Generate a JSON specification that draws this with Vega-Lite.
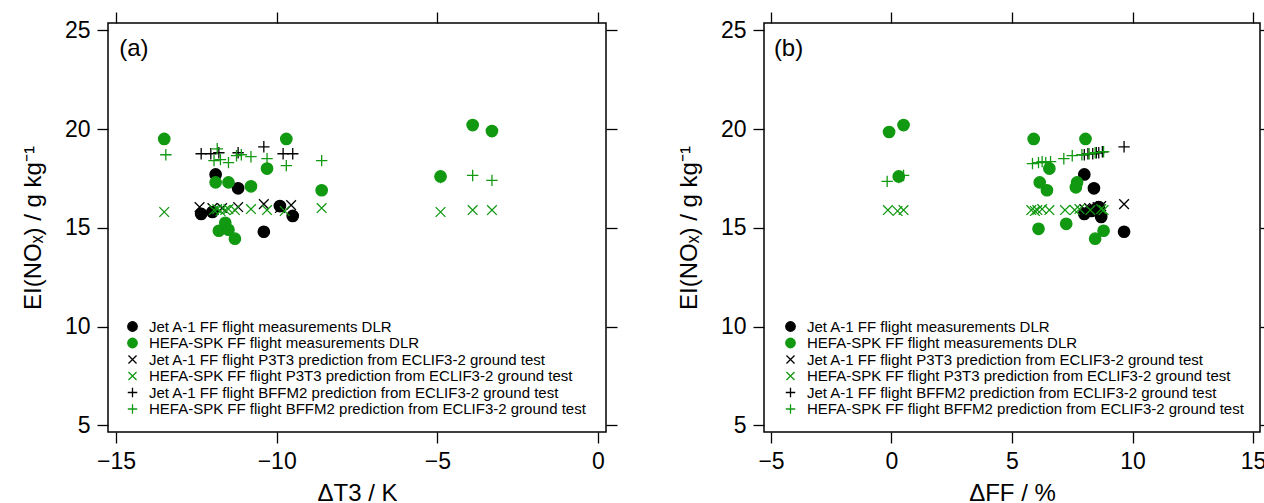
{
  "$schema": "https://vega.github.io/schema/vega-lite/v6.json",
  "padding": {"left": 20, "top": 10, "right": 0, "bottom": 0},
  "background": "white",
  "config": {
    "view": {"stroke": "black", "strokeWidth": 1.5},
    "font": "Liberation Sans",
    "axis": {"domain": false, "grid": false, "ticks": true, "tickColor": "black", "tickWidth": 1.3, "tickSize": 11, "labelFont": "Liberation Sans", "labelFontSize": 23, "labelColor": "black", "titleFont": "Liberation Sans", "titleFontSize": 24, "titleFontWeight": "normal", "titleColor": "black", "labelPadding": 7},
    "axisX": {"titlePadding": 8},
    "axisY": {"titlePadding": 19},
    "legend": {"orient": "none", "legendY": 296, "title": null, "labelFont": "Liberation Sans", "labelFontSize": 15, "labelColor": "black", "symbolSize": 90, "symbolStrokeWidth": 1.3, "rowPadding": 0.5, "labelOffset": 9, "padding": 0, "labelLimit": 700}
  },
  "datasets": {
    "pts": [
      {"p": "a", "s": "JM", "x": -11.9, "y": 17.7},
      {"p": "a", "s": "JM", "x": -11.2, "y": 17.0},
      {"p": "a", "s": "JM", "x": -12.35, "y": 15.7},
      {"p": "a", "s": "JM", "x": -12.0, "y": 15.8},
      {"p": "a", "s": "JM", "x": -9.9, "y": 16.1},
      {"p": "a", "s": "JM", "x": -9.5, "y": 15.6},
      {"p": "a", "s": "JM", "x": -10.4, "y": 14.8},
      {"p": "b", "s": "JM", "x": 8.0, "y": 17.7},
      {"p": "b", "s": "JM", "x": 8.4, "y": 17.0},
      {"p": "b", "s": "JM", "x": 8.0, "y": 15.7},
      {"p": "b", "s": "JM", "x": 8.3, "y": 15.85},
      {"p": "b", "s": "JM", "x": 8.6, "y": 16.05},
      {"p": "b", "s": "JM", "x": 8.7, "y": 15.55},
      {"p": "b", "s": "JM", "x": 9.65, "y": 14.8},

      {"p": "a", "s": "HM", "x": -13.5, "y": 19.5},
      {"p": "a", "s": "HM", "x": -9.7, "y": 19.5},
      {"p": "a", "s": "HM", "x": -3.9, "y": 20.2},
      {"p": "a", "s": "HM", "x": -3.3, "y": 19.9},
      {"p": "a", "s": "HM", "x": -4.9, "y": 17.6},
      {"p": "a", "s": "HM", "x": -8.6, "y": 16.9},
      {"p": "a", "s": "HM", "x": -10.3, "y": 18.0},
      {"p": "a", "s": "HM", "x": -11.9, "y": 17.3},
      {"p": "a", "s": "HM", "x": -11.5, "y": 17.3},
      {"p": "a", "s": "HM", "x": -10.8, "y": 17.1},
      {"p": "a", "s": "HM", "x": -11.6, "y": 15.25},
      {"p": "a", "s": "HM", "x": -11.8, "y": 14.85},
      {"p": "a", "s": "HM", "x": -11.5, "y": 14.9},
      {"p": "a", "s": "HM", "x": -11.3, "y": 14.45},
      {"p": "b", "s": "HM", "x": -0.1, "y": 19.85},
      {"p": "b", "s": "HM", "x": 0.5, "y": 20.2},
      {"p": "b", "s": "HM", "x": 0.3, "y": 17.6},
      {"p": "b", "s": "HM", "x": 5.9, "y": 19.5},
      {"p": "b", "s": "HM", "x": 8.05, "y": 19.5},
      {"p": "b", "s": "HM", "x": 6.55, "y": 18.0},
      {"p": "b", "s": "HM", "x": 6.15, "y": 17.3},
      {"p": "b", "s": "HM", "x": 6.45, "y": 16.9},
      {"p": "b", "s": "HM", "x": 7.7, "y": 17.3},
      {"p": "b", "s": "HM", "x": 7.65, "y": 17.05},
      {"p": "b", "s": "HM", "x": 6.1, "y": 14.95},
      {"p": "b", "s": "HM", "x": 7.25, "y": 15.2},
      {"p": "b", "s": "HM", "x": 8.8, "y": 14.85},
      {"p": "b", "s": "HM", "x": 8.45, "y": 14.45},

      {"p": "a", "s": "JP", "x": -12.4, "y": 16.05},
      {"p": "a", "s": "JP", "x": -12.0, "y": 16.0},
      {"p": "a", "s": "JP", "x": -11.7, "y": 16.0},
      {"p": "a", "s": "JP", "x": -11.2, "y": 16.05},
      {"p": "a", "s": "JP", "x": -10.4, "y": 16.2},
      {"p": "a", "s": "JP", "x": -9.9, "y": 16.0},
      {"p": "a", "s": "JP", "x": -9.55, "y": 16.15},
      {"p": "b", "s": "JP", "x": 9.65, "y": 16.2},
      {"p": "b", "s": "JP", "x": 8.0, "y": 15.95},
      {"p": "b", "s": "JP", "x": 8.2, "y": 16.0},
      {"p": "b", "s": "JP", "x": 8.4, "y": 16.0},
      {"p": "b", "s": "JP", "x": 8.55, "y": 16.05},
      {"p": "b", "s": "JP", "x": 8.7, "y": 16.1},
      {"p": "b", "s": "JP", "x": 8.5, "y": 15.9},

      {"p": "a", "s": "HP", "x": -13.5, "y": 15.8},
      {"p": "a", "s": "HP", "x": -11.95, "y": 15.9},
      {"p": "a", "s": "HP", "x": -11.85, "y": 15.95},
      {"p": "a", "s": "HP", "x": -11.75, "y": 15.85},
      {"p": "a", "s": "HP", "x": -11.6, "y": 15.9},
      {"p": "a", "s": "HP", "x": -11.5, "y": 15.95},
      {"p": "a", "s": "HP", "x": -11.3, "y": 15.9},
      {"p": "a", "s": "HP", "x": -10.8, "y": 15.95},
      {"p": "a", "s": "HP", "x": -10.3, "y": 15.9},
      {"p": "a", "s": "HP", "x": -9.75, "y": 15.85},
      {"p": "a", "s": "HP", "x": -8.6, "y": 16.0},
      {"p": "a", "s": "HP", "x": -4.9, "y": 15.8},
      {"p": "a", "s": "HP", "x": -3.9, "y": 15.9},
      {"p": "a", "s": "HP", "x": -3.3, "y": 15.9},
      {"p": "b", "s": "HP", "x": -0.15, "y": 15.9},
      {"p": "b", "s": "HP", "x": 0.25, "y": 15.85},
      {"p": "b", "s": "HP", "x": 0.5, "y": 15.9},
      {"p": "b", "s": "HP", "x": 5.8, "y": 15.9},
      {"p": "b", "s": "HP", "x": 5.95, "y": 15.85},
      {"p": "b", "s": "HP", "x": 6.05, "y": 15.9},
      {"p": "b", "s": "HP", "x": 6.25, "y": 15.95},
      {"p": "b", "s": "HP", "x": 6.55, "y": 15.9},
      {"p": "b", "s": "HP", "x": 7.2, "y": 15.9},
      {"p": "b", "s": "HP", "x": 7.6, "y": 15.9},
      {"p": "b", "s": "HP", "x": 7.8, "y": 15.95},
      {"p": "b", "s": "HP", "x": 8.25, "y": 15.9},
      {"p": "b", "s": "HP", "x": 8.7, "y": 15.95},
      {"p": "b", "s": "HP", "x": 8.8, "y": 15.9},

      {"p": "a", "s": "JB", "x": -12.35, "y": 18.75},
      {"p": "a", "s": "JB", "x": -12.05, "y": 18.75},
      {"p": "a", "s": "JB", "x": -11.8, "y": 18.8},
      {"p": "a", "s": "JB", "x": -11.2, "y": 18.8},
      {"p": "a", "s": "JB", "x": -10.4, "y": 19.1},
      {"p": "a", "s": "JB", "x": -9.8, "y": 18.75},
      {"p": "a", "s": "JB", "x": -9.5, "y": 18.75},
      {"p": "b", "s": "JB", "x": 9.65, "y": 19.1},
      {"p": "b", "s": "JB", "x": 8.0, "y": 18.7},
      {"p": "b", "s": "JB", "x": 8.15, "y": 18.75},
      {"p": "b", "s": "JB", "x": 8.35, "y": 18.75},
      {"p": "b", "s": "JB", "x": 8.5, "y": 18.8},
      {"p": "b", "s": "JB", "x": 8.6, "y": 18.8},
      {"p": "b", "s": "JB", "x": 8.75, "y": 18.85},

      {"p": "a", "s": "HB", "x": -13.45, "y": 18.7},
      {"p": "a", "s": "HB", "x": -11.95, "y": 18.4},
      {"p": "a", "s": "HB", "x": -11.85, "y": 19.0},
      {"p": "a", "s": "HB", "x": -11.75, "y": 18.45},
      {"p": "a", "s": "HB", "x": -11.5, "y": 18.3},
      {"p": "a", "s": "HB", "x": -11.25, "y": 18.65},
      {"p": "a", "s": "HB", "x": -11.1, "y": 18.7},
      {"p": "a", "s": "HB", "x": -10.8, "y": 18.6},
      {"p": "a", "s": "HB", "x": -10.3, "y": 18.5},
      {"p": "a", "s": "HB", "x": -9.7, "y": 18.15},
      {"p": "a", "s": "HB", "x": -8.6, "y": 18.4},
      {"p": "a", "s": "HB", "x": -4.9, "y": 17.55},
      {"p": "a", "s": "HB", "x": -3.9, "y": 17.65},
      {"p": "a", "s": "HB", "x": -3.3, "y": 17.4},
      {"p": "b", "s": "HB", "x": -0.18, "y": 17.35},
      {"p": "b", "s": "HB", "x": 0.5, "y": 17.65},
      {"p": "b", "s": "HB", "x": 0.3, "y": 17.55},
      {"p": "b", "s": "HB", "x": 5.85, "y": 18.25},
      {"p": "b", "s": "HB", "x": 6.1, "y": 18.3},
      {"p": "b", "s": "HB", "x": 6.25, "y": 18.35},
      {"p": "b", "s": "HB", "x": 6.4, "y": 18.3},
      {"p": "b", "s": "HB", "x": 6.6, "y": 18.35},
      {"p": "b", "s": "HB", "x": 7.15, "y": 18.5},
      {"p": "b", "s": "HB", "x": 7.5, "y": 18.65},
      {"p": "b", "s": "HB", "x": 7.9, "y": 18.7},
      {"p": "b", "s": "HB", "x": 8.2, "y": 18.75},
      {"p": "b", "s": "HB", "x": 8.45, "y": 18.8},
      {"p": "b", "s": "HB", "x": 8.8, "y": 18.85}
    ]
  },
  "spacing": 57,
  "hconcat": [
    {
      "width": 498,
      "height": 409,
      "layer": [
        {
          "data": {"name": "pts"},
          "transform": [{"filter": "datum.p == 'a'"}],
          "mark": {"type": "point", "filled": true, "opacity": 1, "strokeWidth": 1.3, "size": 130},
          "encoding": {
            "x": {"field": "x", "type": "quantitative", "scale": {"domain": [-15.25, 0.25], "nice": false, "zero": false}, "axis": {"values": [-15, -10, -5, 0], "title": "ΔT3 / K"}},
            "y": {"field": "y", "type": "quantitative", "scale": {"domain": [4.66, 25.37], "nice": false, "zero": false}, "axis": {"values": [5, 10, 15, 20, 25], "title": "EI(NOₓ) / g kg⁻¹"}},
            "fill": {"field": "s", "type": "nominal", "scale": {"domain": ["JM", "HM", "JP", "HP", "JB", "HB"], "range": ["#000000", "#119911", "#000000", "#119911", "#000000", "#119911"]}, "legend": {"legendX": 17, "labelExpr": "datum.label == 'JM' ? 'Jet A-1 FF flight measurements DLR' : datum.label == 'HM' ? 'HEFA-SPK FF flight measurements DLR' : datum.label == 'JP' ? 'Jet A-1 FF flight P3T3 prediction from ECLIF3-2 ground test' : datum.label == 'HP' ? 'HEFA-SPK FF flight P3T3 prediction from ECLIF3-2 ground test' : datum.label == 'JB' ? 'Jet A-1 FF flight BFFM2 prediction from ECLIF3-2 ground test' : 'HEFA-SPK FF flight BFFM2 prediction from ECLIF3-2 ground test'"}},
            "stroke": {"field": "s", "type": "nominal", "scale": {"domain": ["JM", "HM", "JP", "HP", "JB", "HB"], "range": ["#000000", "#119911", "#000000", "#119911", "#000000", "#119911"]}, "legend": {"legendX": 17, "labelExpr": "datum.label == 'JM' ? 'Jet A-1 FF flight measurements DLR' : datum.label == 'HM' ? 'HEFA-SPK FF flight measurements DLR' : datum.label == 'JP' ? 'Jet A-1 FF flight P3T3 prediction from ECLIF3-2 ground test' : datum.label == 'HP' ? 'HEFA-SPK FF flight P3T3 prediction from ECLIF3-2 ground test' : datum.label == 'JB' ? 'Jet A-1 FF flight BFFM2 prediction from ECLIF3-2 ground test' : 'HEFA-SPK FF flight BFFM2 prediction from ECLIF3-2 ground test'"}},
            "shape": {"field": "s", "type": "nominal", "scale": {"domain": ["JM", "HM", "JP", "HP", "JB", "HB"], "range": ["circle", "circle", "M-0.85,-0.85L0.85,0.85M-0.85,0.85L0.85,-0.85", "M-0.85,-0.85L0.85,0.85M-0.85,0.85L0.85,-0.85", "M-1,0L1,0M0,-1L0,1", "M-1,0L1,0M0,-1L0,1"]}, "legend": {"legendX": 17, "labelExpr": "datum.label == 'JM' ? 'Jet A-1 FF flight measurements DLR' : datum.label == 'HM' ? 'HEFA-SPK FF flight measurements DLR' : datum.label == 'JP' ? 'Jet A-1 FF flight P3T3 prediction from ECLIF3-2 ground test' : datum.label == 'HP' ? 'HEFA-SPK FF flight P3T3 prediction from ECLIF3-2 ground test' : datum.label == 'JB' ? 'Jet A-1 FF flight BFFM2 prediction from ECLIF3-2 ground test' : 'HEFA-SPK FF flight BFFM2 prediction from ECLIF3-2 ground test'"}}
          }
        },
        {
          "data": {"name": "pts"},
          "transform": [{"filter": "datum.p == 'a'"}],
          "mark": {"type": "point", "opacity": 0},
          "encoding": {
            "x": {"field": "x", "type": "quantitative", "scale": {"domain": [-15.25, 0.25], "nice": false, "zero": false}, "axis": {"orient": "top", "values": [-15, -10, -5, 0], "labels": false, "title": null}},
            "y": {"field": "y", "type": "quantitative", "scale": {"domain": [4.66, 25.37], "nice": false, "zero": false}, "axis": {"orient": "right", "values": [5, 10, 15, 20, 25], "labels": false, "title": null}}
          }
        },
        {
          "data": {"values": [{"label": "(a)"}]},
          "mark": {"type": "text", "align": "left", "baseline": "alphabetic", "fontSize": 24, "font": "Liberation Sans", "color": "black"},
          "encoding": {
            "x": {"datum": -14.9, "type": "quantitative", "scale": {"domain": [-15.25, 0.25], "nice": false, "zero": false}, "axis": null},
            "y": {"datum": 23.72, "type": "quantitative", "scale": {"domain": [4.66, 25.37], "nice": false, "zero": false}, "axis": null},
            "text": {"field": "label"}
          }
        }
      ],
      "resolve": {"axis": {"x": "independent", "y": "independent"}}
    },
    {
      "width": 496,
      "height": 409,
      "layer": [
        {
          "data": {"name": "pts"},
          "transform": [{"filter": "datum.p == 'b'"}],
          "mark": {"type": "point", "filled": true, "opacity": 1, "strokeWidth": 1.3, "size": 130},
          "encoding": {
            "x": {"field": "x", "type": "quantitative", "scale": {"domain": [-5.29, 15.29], "nice": false, "zero": false}, "axis": {"values": [-5, 0, 5, 10, 15], "title": "ΔFF / %"}},
            "y": {"field": "y", "type": "quantitative", "scale": {"domain": [4.66, 25.37], "nice": false, "zero": false}, "axis": {"values": [5, 10, 15, 20, 25], "title": "EI(NOₓ) / g kg⁻¹"}},
            "fill": {"field": "s", "type": "nominal", "scale": {"domain": ["JM", "HM", "JP", "HP", "JB", "HB"], "range": ["#000000", "#119911", "#000000", "#119911", "#000000", "#119911"]}, "legend": {"legendX": 19, "labelExpr": "datum.label == 'JM' ? 'Jet A-1 FF flight measurements DLR' : datum.label == 'HM' ? 'HEFA-SPK FF flight measurements DLR' : datum.label == 'JP' ? 'Jet A-1 FF flight P3T3 prediction from ECLIF3-2 ground test' : datum.label == 'HP' ? 'HEFA-SPK FF flight P3T3 prediction from ECLIF3-2 ground test' : datum.label == 'JB' ? 'Jet A-1 FF flight BFFM2 prediction from ECLIF3-2 ground test' : 'HEFA-SPK FF flight BFFM2 prediction from ECLIF3-2 ground test'"}},
            "stroke": {"field": "s", "type": "nominal", "scale": {"domain": ["JM", "HM", "JP", "HP", "JB", "HB"], "range": ["#000000", "#119911", "#000000", "#119911", "#000000", "#119911"]}, "legend": {"legendX": 19, "labelExpr": "datum.label == 'JM' ? 'Jet A-1 FF flight measurements DLR' : datum.label == 'HM' ? 'HEFA-SPK FF flight measurements DLR' : datum.label == 'JP' ? 'Jet A-1 FF flight P3T3 prediction from ECLIF3-2 ground test' : datum.label == 'HP' ? 'HEFA-SPK FF flight P3T3 prediction from ECLIF3-2 ground test' : datum.label == 'JB' ? 'Jet A-1 FF flight BFFM2 prediction from ECLIF3-2 ground test' : 'HEFA-SPK FF flight BFFM2 prediction from ECLIF3-2 ground test'"}},
            "shape": {"field": "s", "type": "nominal", "scale": {"domain": ["JM", "HM", "JP", "HP", "JB", "HB"], "range": ["circle", "circle", "M-0.85,-0.85L0.85,0.85M-0.85,0.85L0.85,-0.85", "M-0.85,-0.85L0.85,0.85M-0.85,0.85L0.85,-0.85", "M-1,0L1,0M0,-1L0,1", "M-1,0L1,0M0,-1L0,1"]}, "legend": {"legendX": 19, "labelExpr": "datum.label == 'JM' ? 'Jet A-1 FF flight measurements DLR' : datum.label == 'HM' ? 'HEFA-SPK FF flight measurements DLR' : datum.label == 'JP' ? 'Jet A-1 FF flight P3T3 prediction from ECLIF3-2 ground test' : datum.label == 'HP' ? 'HEFA-SPK FF flight P3T3 prediction from ECLIF3-2 ground test' : datum.label == 'JB' ? 'Jet A-1 FF flight BFFM2 prediction from ECLIF3-2 ground test' : 'HEFA-SPK FF flight BFFM2 prediction from ECLIF3-2 ground test'"}}
          }
        },
        {
          "data": {"name": "pts"},
          "transform": [{"filter": "datum.p == 'b'"}],
          "mark": {"type": "point", "opacity": 0},
          "encoding": {
            "x": {"field": "x", "type": "quantitative", "scale": {"domain": [-5.29, 15.29], "nice": false, "zero": false}, "axis": {"orient": "top", "values": [-5, 0, 5, 10, 15], "labels": false, "title": null}},
            "y": {"field": "y", "type": "quantitative", "scale": {"domain": [4.66, 25.37], "nice": false, "zero": false}, "axis": {"orient": "right", "values": [5, 10, 15, 20, 25], "labels": false, "title": null}}
          }
        },
        {
          "data": {"values": [{"label": "(b)"}]},
          "mark": {"type": "text", "align": "left", "baseline": "alphabetic", "fontSize": 24, "font": "Liberation Sans", "color": "black"},
          "encoding": {
            "x": {"datum": -4.88, "type": "quantitative", "scale": {"domain": [-5.29, 15.29], "nice": false, "zero": false}, "axis": null},
            "y": {"datum": 23.72, "type": "quantitative", "scale": {"domain": [4.66, 25.37], "nice": false, "zero": false}, "axis": null},
            "text": {"field": "label"}
          }
        }
      ],
      "resolve": {"axis": {"x": "independent", "y": "independent"}}
    }
  ],
  "resolve": {"scale": {"x": "independent", "y": "independent", "fill": "independent", "stroke": "independent", "shape": "independent"}}
}
